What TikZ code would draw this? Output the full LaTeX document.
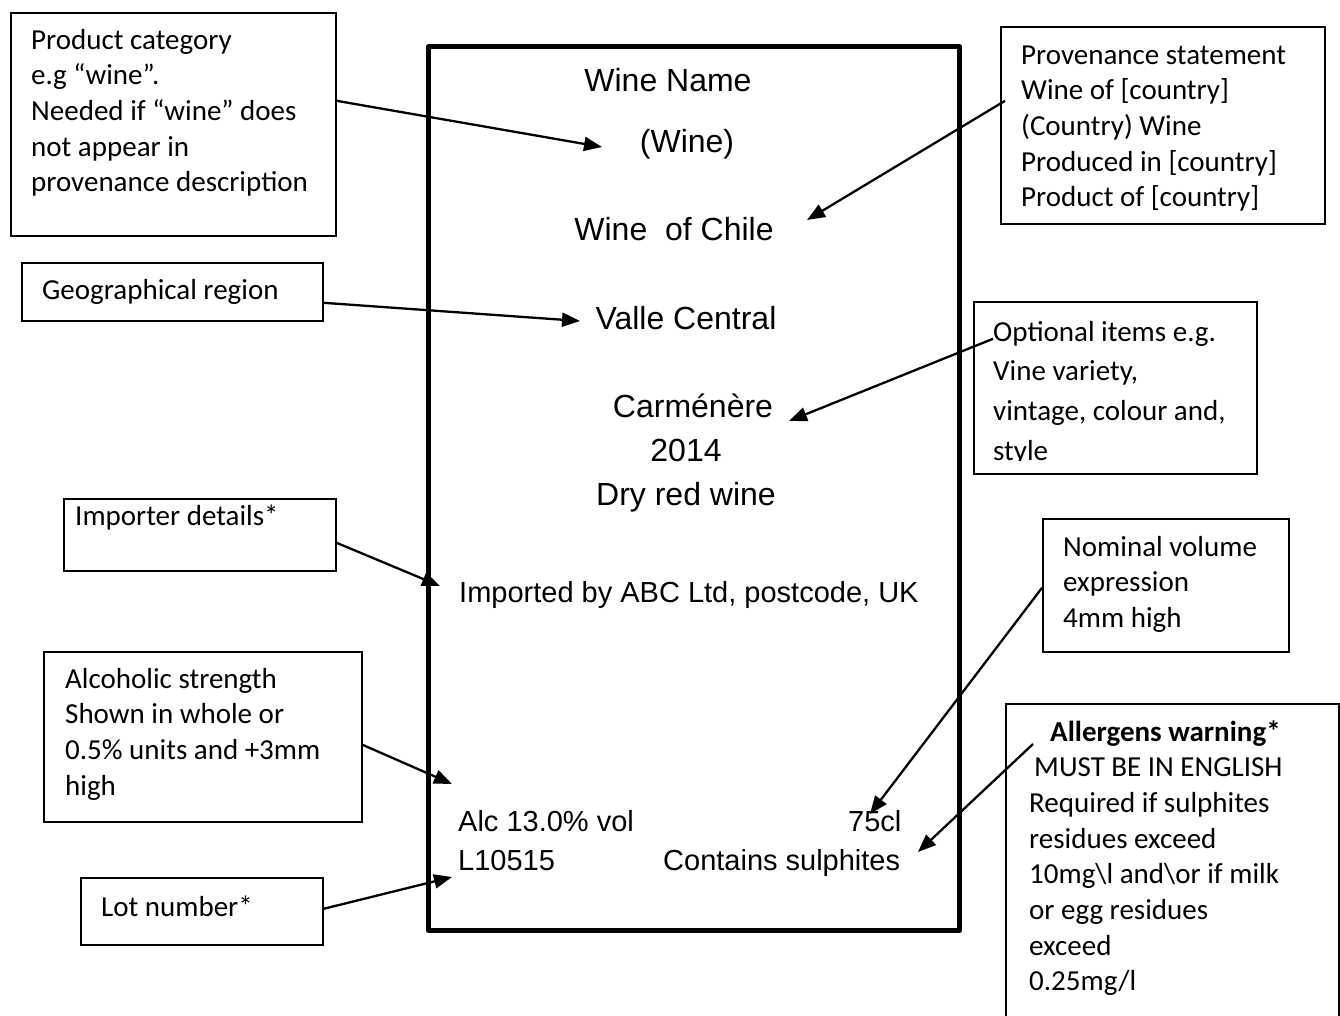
\documentclass[tikz,border=0pt]{standalone}
\usepackage{fontspec}
\setmainfont{Liberation Sans}
\newfontfamily\calib{Carlito}
\usetikzlibrary{arrows.meta}
\newcommand{\notelines}[2][400pt]{\parbox[t]{#1}{\raggedright #2}}
\begin{document}
\begin{tikzpicture}[x=1pt,y=-1pt,
  box/.style={draw, line width=1.6pt, inner sep=0pt, anchor=north west},
  note/.style={inner sep=0pt, anchor=base west, font=\calib\fontsize{29}{35.7}\selectfont},
  lbig/.style={inner sep=0pt, anchor=base, font=\fontsize{32}{38}\selectfont},
  lsmall/.style={inner sep=0pt, anchor=base west, font=\fontsize{29}{35}\selectfont},
  conn/.style={line width=2.3pt, -{Triangle[length=18pt,width=14pt]}}]
\useasboundingbox (0,0) rectangle (1340,1015);
\fill[white] (0,0) rectangle (1340,1015);

% label frame
\node[draw, line width=5pt, line join=round, inner sep=0pt, anchor=north west,
      minimum width=531pt, minimum height=884pt] (frame) at (426,44) {};

% label texts
\node[lbig] (wname) at (668,91) {Wine Name};
\node[lbig] (wcat) at (687,152) {(Wine)};
\node[lbig] (wchile) at (674,240) {Wine\ \ of Chile};
\node[lbig] (valle) at (686,329) {Valle Central};
\node[lbig] (carm) at (693,417) {Carménère};
\node[lbig] (vint) at (686,461) {2014};
\node[lbig] (dry) at (686,505) {Dry red wine};
\node[lsmall] (impl) at (459,602) {Imported by ABC Ltd, postcode, UK};
\node[lsmall] (alc) at (458,831) {Alc 13.0\% vol};
\node[lsmall] (vol) at (848,831) {75cl};
\node[lsmall] (lot) at (458,870) {L10515};
\node[lsmall] (sulph) at (663,870) {Contains sulphites};

% boxes
\node[box, minimum width=325pt, minimum height=223pt] (pcbox) at (10,12) {};
\node[note] (pctext) at (31,49) {\notelines{Product category\\e.g “wine”.\\Needed if “wine” does\\not appear in\\provenance description}};

\node[box, minimum width=301pt, minimum height=58pt] (geobox) at (21,262) {};
\node[note] (geotext) at (42,299) {Geographical region};

\node[box, minimum width=324pt, minimum height=197pt] (provbox) at (1000,26) {};
\node[note] (provtext) at (1021,64) {\notelines{Provenance statement\\Wine of [country]\\(Country) Wine\\Produced in [country]\\Product of [country]}};

\begin{scope}
\clip (973,301) rectangle (1256,460);
\node[note, font=\calib\fontsize{29}{39.7}\selectfont] (opttext) at (993,341) {\notelines{Optional items e.g.\\Vine variety,\\vintage, colour and,\\style}};
\end{scope}
\node[box, minimum width=283pt, minimum height=172pt] (optbox) at (973,301) {};

\node[box, minimum width=272pt, minimum height=72pt] (impbox) at (63,498) {};
\node[note] (imptext) at (75,525) {Importer details*};

\node[box, minimum width=246pt, minimum height=133pt] (nombox) at (1042,518) {};
\node[note] (nomtext) at (1063,556) {\notelines{Nominal volume\\expression\\4mm high}};

\node[box, minimum width=318pt, minimum height=170pt] (alcbox) at (43,651) {};
\node[note] (alctext) at (65,688) {\notelines{Alcoholic strength\\Shown in whole or\\0.5\% units and +3mm\\high}};

\node[box, minimum width=242pt, minimum height=67pt] (lotbox) at (80,877) {};
\node[note] (lottext) at (101,916) {Lot number*};

\node[box, minimum width=333pt, minimum height=340pt] (allbox) at (1005,703) {};
\node[note] (alltext) at (1029,741) {\notelines{\hspace*{21pt}{\bfseries Allergens warning*}\\\hspace*{5pt}MUST BE IN ENGLISH\\Required if sulphites\\residues exceed\\10mg\textbackslash l and\textbackslash or if milk\\or egg residues\\exceed\\0.25mg/l}};

% arrow tips
\coordinate (t1) at (602,147);
\coordinate (t2) at (580,321);
\coordinate (t3) at (807,220);
\coordinate (t4) at (789,421);
\coordinate (t5) at (440,586);
\coordinate (t6) at (452,784);
\coordinate (t7) at (452,877);
\coordinate (t8) at (870,814);
\coordinate (t9) at (918,852);

% connectors
\draw[conn] ([yshift=23.5pt]pcbox.east) -- (t1);
\draw[conn] ([yshift=-11pt]geobox.east) -- (t2);
\draw[conn] ([xshift=5pt,yshift=24.5pt]provbox.west) -- (t3);
\draw[conn] ([xshift=20pt,yshift=49pt]optbox.west) -- (t4);
\draw[conn] ([yshift=-8pt]impbox.east) -- (t5);
\draw[conn] ([yshift=-8pt]alcbox.east) -- (t6);
\draw[conn] ([yshift=2.5pt]lotbox.east) -- (t7);
\draw[conn] ([yshift=-2.5pt]nombox.west) -- (t8);
\draw[conn] ([xshift=28pt,yshift=-41pt]allbox.north west) -- (t9);
\end{tikzpicture}
\end{document}
